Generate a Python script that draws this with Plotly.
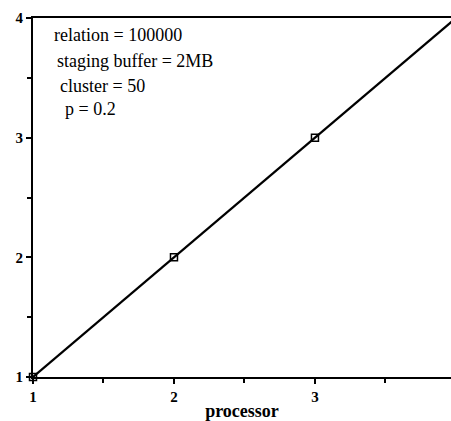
import plotly.graph_objects as go

processors = [1, 2, 3, 4]
speedup = [1, 2, 3, 4]
x_ticks = [1, 2, 3]
y_ticks = [1, 2, 3, 4]
notes = ["relation = 100000", "staging buffer = 2MB", "cluster = 50", "p = 0.2"]

fig = go.Figure()
fig.add_trace(go.Scatter(
    x=processors, y=speedup, mode="lines+markers", cliponaxis=False,
    line=dict(color="black", width=2.2),
    marker=dict(symbol="square-open", size=7, color="black", line=dict(width=1.5)),
    showlegend=False,
))

note_pos = [(0.0455, 0.953), (0.0526, 0.880), (0.0598, 0.811), (0.0718, 0.747)]
for txt, (px, py) in zip(notes, note_pos):
    fig.add_annotation(text=txt, x=px, y=py, xref="paper", yref="paper",
                       xanchor="left", yanchor="middle", showarrow=False,
                       font=dict(family="Liberation Serif", size=18, color="black"))

fig.update_layout(
    width=451, height=421,
    margin=dict(l=33, r=0, t=18, b=44),
    plot_bgcolor="white", paper_bgcolor="white",
    font=dict(family="Liberation Serif", color="black"),
)
fig.update_xaxes(
    range=[1, 3.965], tickvals=x_ticks, ticktext=[str(v) for v in x_ticks],
    showgrid=False, zeroline=False, showline=True, linecolor="black", linewidth=2,
    mirror=True, ticks="outside", ticklen=5, tickwidth=2, tickcolor="black",
    minor=dict(dtick=0.5, tick0=1, ticks="outside", ticklen=4, tickwidth=2, tickcolor="black"),
    tickfont=dict(family="Liberation Serif", size=15, color="black", weight="bold"),
    title=dict(text="processor", standoff=1,
               font=dict(family="Liberation Serif", size=18, color="black", weight="bold")),
)
fig.update_yaxes(
    range=[1, 4], tickvals=y_ticks, ticktext=[str(v) for v in y_ticks],
    showgrid=False, zeroline=False, showline=True, linecolor="black", linewidth=2,
    ticks="outside", ticklen=5, tickwidth=2, tickcolor="black",
    minor=dict(dtick=0.5, tick0=1, ticks="outside", ticklen=4, tickwidth=2, tickcolor="black"),
    tickfont=dict(family="Liberation Serif", size=15, color="black", weight="bold"),
)
fig.write_html("out.html")
